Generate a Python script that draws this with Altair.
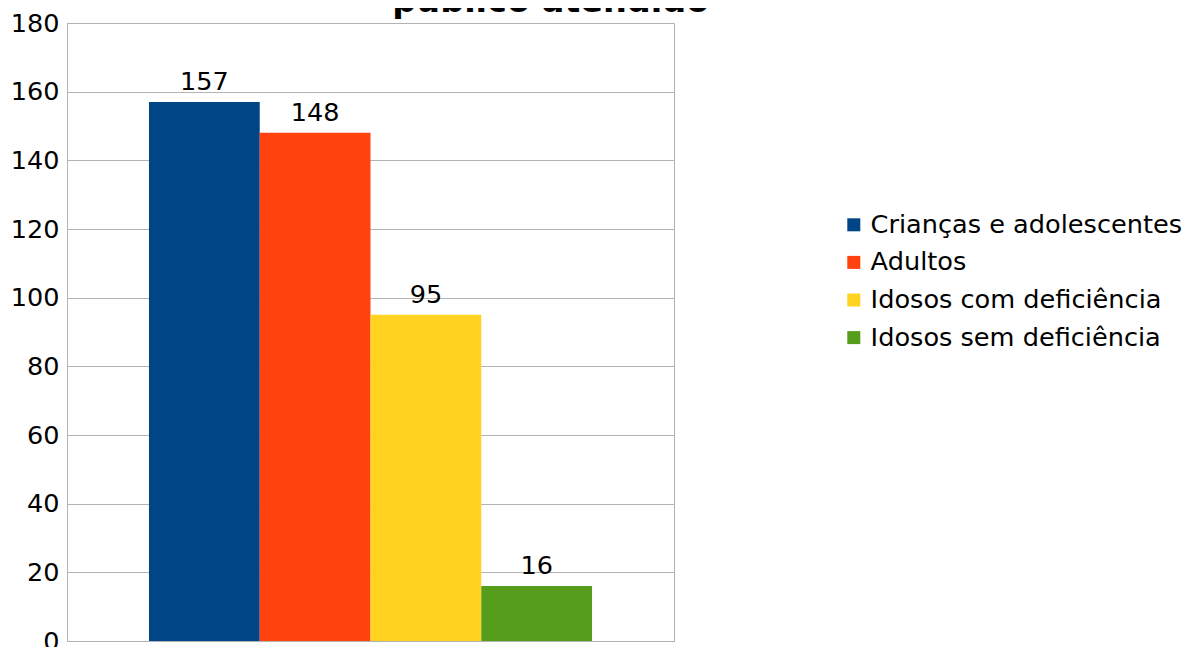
import altair as alt
import pandas as pd

series = ["Crianças e adolescentes", "Adultos", "Idosos com deficiência", "Idosos sem deficiência"]
values = [157, 148, 95, 16]
colors = ["#004586", "#ff420e", "#ffd320", "#579d1c"]
y_ticks = [0, 20, 40, 60, 80, 100, 120, 140, 160, 180]
title_text = "público atendido"

df = pd.DataFrame({"serie": series, "valor": values})

x = alt.X("serie:N", sort=series,
          scale=alt.Scale(paddingInner=0, paddingOuter=0.74),
          axis=alt.Axis(labels=False, ticks=False, title=None, domainColor="#b3b3b3", grid=False))
y = alt.Y("valor:Q", scale=alt.Scale(domain=[0, 180], nice=False),
          axis=alt.Axis(values=y_ticks, title=None, ticks=False, labelFontSize=25.5, labelColor="#000000",
                        labelPadding=8, domainColor="#b3b3b3", gridColor="#b3b3b3", labelFont="DejaVu Sans"))

bars = alt.Chart(df).mark_bar().encode(
    x=x, y=y,
    color=alt.Color("serie:N", sort=series, scale=alt.Scale(domain=series, range=colors),
                    legend=alt.Legend(title=None, orient="none", legendX=774, legendY=189,
                                      symbolType="square", symbolSize=169, symbolStrokeWidth=0,
                                      labelFontSize=25.6, labelFont="DejaVu Sans", labelColor="#000000",
                                      rowPadding=10.6, labelOffset=4, padding=0, labelLimit=600))
)

labels = alt.Chart(df).mark_text(baseline="alphabetic", dy=-12, fontSize=25.5, font="DejaVu Sans", color="#000000").encode(
    x=alt.X("serie:N", sort=series), y="valor:Q", text="valor:Q"
)

chart = (bars + labels).properties(
    width=607, height=618,
    title=alt.TitleParams(title_text, anchor="start", dx=382, fontSize=33.5, font="DejaVu Sans",
                          fontWeight="bold", color="#000000", offset=-8),
    autosize=alt.AutoSizeParams(type="none"),
    padding={"left": 59, "top": 15, "right": 509, "bottom": 6},
).configure_view(stroke="#b3b3b3", strokeWidth=1)

chart.save("out.html", embed_options={"renderer": "svg", "actions": False})
